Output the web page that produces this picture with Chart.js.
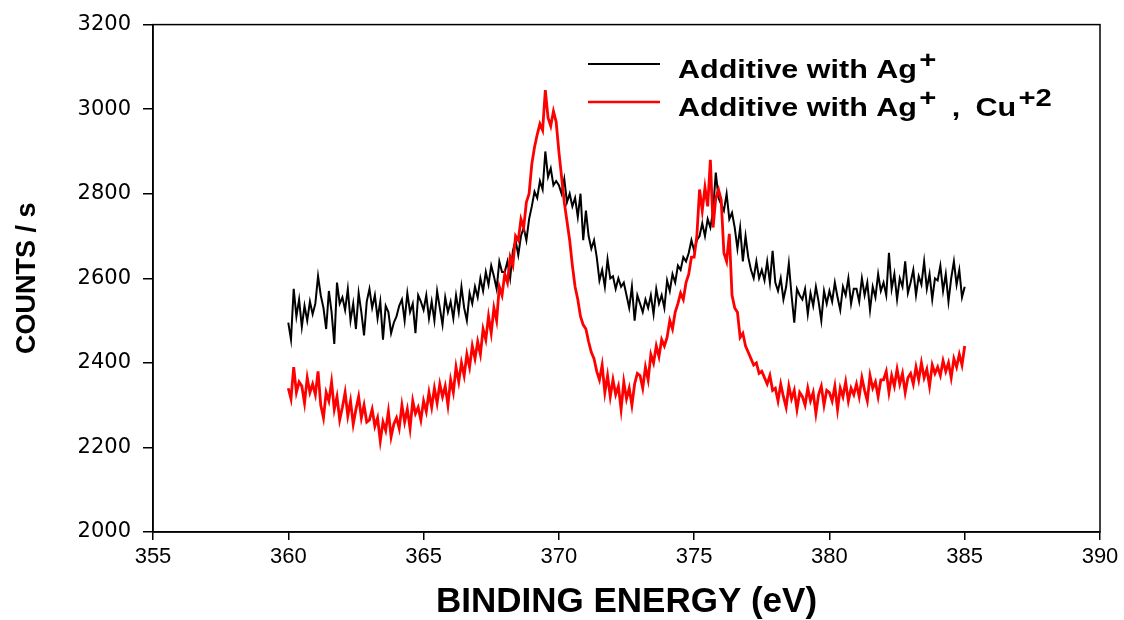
<!DOCTYPE html>
<html>
<head>
<meta charset="utf-8">
<title>XPS Ag 3d</title>
<script src="https://cdn.jsdelivr.net/npm/chart.js@4.4.1/dist/chart.umd.min.js"></script>
<style>
  html, body { margin: 0; padding: 0; background: #fff; }
  #wrap { width: 1124px; height: 620px; position: relative; }
</style>
</head>
<body>
<div id="wrap"><canvas id="xpsChart"></canvas></div>
<script>
// Espectro XPS, paso de 0.1 eV desde 360 hasta 385 eV
const energiaInicio = 360;
const energiaPaso = 0.1;

// Aditivo con Ag+
const cuentasAg = [
  2495, 2455, 2575, 2510, 2550, 2485, 2535, 2500, 2545, 2515,
  2540, 2605, 2560, 2530, 2480, 2570, 2520, 2445, 2590, 2540,
  2555, 2525, 2575, 2500, 2540, 2480, 2565, 2520, 2465, 2545,
  2575, 2530, 2560, 2505, 2545, 2455, 2535, 2520, 2470, 2495,
  2510, 2535, 2550, 2500, 2565, 2520, 2540, 2470, 2560, 2545,
  2525, 2560, 2505, 2545, 2500, 2570, 2530, 2490, 2555, 2520,
  2545, 2505, 2560, 2520, 2580, 2530, 2500, 2565, 2540, 2580,
  2555, 2600, 2570, 2615, 2585, 2630, 2605, 2575, 2640, 2615,
  2615, 2640, 2600, 2665, 2690, 2655, 2700, 2720, 2690, 2740,
  2770, 2805, 2790, 2830, 2810, 2900, 2840, 2860, 2820, 2830,
  2820, 2800, 2835, 2780, 2800, 2770, 2790, 2745, 2800, 2690,
  2760, 2700, 2670, 2690, 2650, 2595, 2620, 2580, 2645, 2600,
  2605, 2575, 2600, 2580, 2590, 2560, 2530, 2580, 2500, 2560,
  2540, 2520, 2550, 2530, 2560, 2515, 2575, 2540, 2560, 2530,
  2595, 2570, 2610, 2590, 2630, 2620, 2650, 2640, 2660, 2690,
  2665, 2690, 2700, 2730, 2700, 2740, 2720, 2760, 2850, 2790,
  2775, 2760, 2800, 2740, 2755, 2720, 2670, 2720, 2640, 2700,
  2650, 2620, 2600, 2640, 2600, 2620, 2595, 2640, 2590, 2665,
  2590, 2570, 2600, 2550, 2580, 2635, 2560, 2495, 2575, 2560,
  2550, 2575, 2515, 2565, 2535, 2580, 2545, 2500, 2570, 2540,
  2570, 2545, 2590, 2555, 2525, 2580, 2560, 2600, 2540, 2575,
  2575, 2545, 2600, 2560, 2590, 2525, 2580, 2555, 2610, 2570,
  2590, 2560, 2660, 2575, 2610, 2550, 2600, 2580, 2640, 2565,
  2590, 2620, 2560, 2605, 2585, 2640, 2575, 2610, 2550, 2600,
  2595, 2630, 2570, 2610, 2545, 2600, 2640, 2585, 2620, 2555,
  2580
];

// Aditivo con Ag+ y Cu+2
const cuentasAgCu = [
  2340, 2315, 2390, 2330, 2355, 2345, 2305, 2365, 2330, 2350,
  2325, 2380, 2300, 2270, 2330, 2310, 2355, 2290, 2320, 2265,
  2295, 2330, 2275, 2310, 2255, 2290, 2320, 2270, 2300, 2260,
  2265, 2290, 2250, 2270, 2215, 2260, 2240, 2285, 2225, 2255,
  2270, 2245, 2300, 2260, 2290, 2245, 2310, 2280, 2295, 2265,
  2310, 2285, 2330, 2295, 2340, 2305, 2350, 2320, 2345, 2300,
  2360, 2330, 2390, 2355, 2400, 2370, 2420, 2390, 2440, 2410,
  2450, 2420, 2480, 2455, 2510, 2470, 2530, 2500, 2580, 2560,
  2610, 2590, 2650, 2630, 2700, 2690, 2740, 2720, 2780, 2800,
  2870, 2910, 2940, 2965, 2950, 3045, 2980, 2960, 2995, 2970,
  2900, 2840, 2780, 2735, 2690, 2630, 2580, 2550, 2510, 2490,
  2480, 2450, 2425, 2410, 2380, 2360, 2395, 2330, 2370, 2320,
  2360, 2325, 2345, 2290, 2355, 2315, 2340, 2300, 2350, 2375,
  2370, 2340, 2390, 2360, 2420, 2400, 2440, 2415, 2455, 2440,
  2460, 2500, 2480, 2520, 2540, 2565, 2550, 2590, 2610, 2650,
  2650, 2700, 2810, 2760, 2815, 2770, 2880, 2720, 2790, 2810,
  2785, 2660, 2640, 2705, 2560, 2530, 2520, 2460, 2470, 2440,
  2425, 2410, 2395, 2400, 2375, 2380, 2365, 2350, 2370, 2335,
  2340, 2310, 2350, 2320, 2295, 2345, 2315, 2335, 2290, 2330,
  2320, 2300, 2340, 2310, 2330, 2280, 2325, 2345, 2300, 2335,
  2330, 2310, 2345, 2290, 2340, 2320, 2355, 2310, 2340, 2325,
  2350, 2320, 2365, 2335, 2310, 2370, 2340, 2355, 2320, 2360,
  2360, 2380, 2330, 2370, 2345, 2385, 2350, 2375, 2330, 2365,
  2375, 2350, 2390, 2360, 2400, 2365, 2385, 2345, 2395, 2375,
  2390, 2370, 2405, 2380, 2400, 2365, 2410, 2390, 2420, 2395,
  2440
];

// Textos de la leyenda: [texto, superindice]
const leyendaAg = [['Additive with Ag', '+']];
const leyendaAgCu = [['Additive with Ag', '+'], ['\u2002,\u2002Cu', '+2']];

function aPuntos(valores) {
  return valores.map((v, i) => ({ x: +(energiaInicio + i * energiaPaso).toFixed(2), y: v }));
}

// Caja completa alrededor del area de la grafica
const marcoPlugin = {
  id: 'marco',
  afterDatasetsDraw(chart) {
    const { ctx, chartArea: a } = chart;
    ctx.save();
    ctx.strokeStyle = '#000';
    ctx.lineWidth = 1.5;
    ctx.strokeRect(a.left, a.top, a.right - a.left, a.bottom - a.top);
    ctx.restore();
  }
};

// Leyenda con superindices
const leyendaPlugin = {
  id: 'leyendaSup',
  afterDraw(chart) {
    const ctx = chart.ctx;
    const filas = [
      { color: '#000', ancho: 2, partes: leyendaAg, y: 64 },
      { color: '#ff0000', ancho: 2.5, partes: leyendaAgCu, y: 102 }
    ];
    ctx.save();
    filas.forEach(f => {
      ctx.strokeStyle = f.color;
      ctx.lineWidth = f.ancho;
      ctx.beginPath();
      ctx.moveTo(588, f.y);
      ctx.lineTo(660, f.y);
      ctx.stroke();

      ctx.save();
      ctx.translate(678, f.y + 14);
      ctx.scale(1.22, 1);
      ctx.fillStyle = '#000';
      ctx.textBaseline = 'alphabetic';
      let x = 0;
      f.partes.forEach(([txt, sup]) => {
        ctx.font = 'bold 25px "Liberation Sans", Arial, sans-serif';
        ctx.fillText(txt, x, 0);
        x += ctx.measureText(txt).width;
        ctx.font = 'bold 24px "Liberation Sans", Arial, sans-serif';
        ctx.fillText(sup, x + 2, -10);
        x += ctx.measureText(sup).width + 2;
      });
      ctx.restore();
    });
    ctx.restore();
  }
};

const ctx = document.getElementById('xpsChart').getContext('2d');
new Chart(ctx, {
  type: 'line',
  data: {
    datasets: [
      {
        label: 'Additive with Ag+',
        data: aPuntos(cuentasAg),
        borderColor: '#000',
        borderWidth: 2,
        pointRadius: 0,
        tension: 0,
        order: 1
      },
      {
        label: 'Additive with Ag+ , Cu+2',
        data: aPuntos(cuentasAgCu),
        borderColor: '#ff0000',
        borderWidth: 2.8,
        pointRadius: 0,
        tension: 0,
        order: 0
      }
    ]
  },
  options: {
    responsive: true,
    maintainAspectRatio: false,
    animation: false,
    layout: { padding: { top: 24, right: 24, left: 0, bottom: 0 } },
    plugins: {
      legend: { display: false },
      tooltip: { enabled: false }
    },
    scales: {
      x: {
        type: 'linear',
        min: 355,
        max: 390,
        afterFit(s) { s.height = 88; },
        grid: { display: true, drawOnChartArea: false, drawTicks: true, tickLength: 8, color: '#000', lineWidth: 1.5 },
        border: { display: true, color: '#000', width: 1.5 },
        ticks: {
          stepSize: 5,
          color: '#000',
          padding: 4,
          maxRotation: 0,
          callback: v => String(v),
          font: { family: '"Liberation Sans Narrow", "Liberation Sans", Arial, sans-serif', size: 22 }
        },
        title: {
          display: true,
          text: 'BINDING ENERGY (eV)',
          color: '#000',
          padding: { top: 0, bottom: 0 },
          font: { family: '"Liberation Sans", Arial, sans-serif', size: 35, weight: 'bold', lineHeight: 1 }
        }
      },
      y: {
        min: 2000,
        max: 3200,
        afterFit(s) { s.width = 153; },
        grid: { display: true, drawOnChartArea: false, drawTicks: true, tickLength: 10, color: '#000', lineWidth: 1.5 },
        border: { display: true, color: '#000', width: 1.5 },
        ticks: {
          stepSize: 200,
          color: '#000',
          padding: 12,
          callback: v => String(v),
          font: { family: '"DejaVu Sans", sans-serif', size: 21 }
        },
        title: {
          display: true,
          text: 'COUNTS / s',
          color: '#000',
          padding: { top: 14, bottom: 0 },
          font: { family: '"Liberation Sans", Arial, sans-serif', size: 27, weight: 'bold', lineHeight: 1 }
        }
      }
    }
  },
  plugins: [marcoPlugin, leyendaPlugin]
});
</script>
</body>
</html>
